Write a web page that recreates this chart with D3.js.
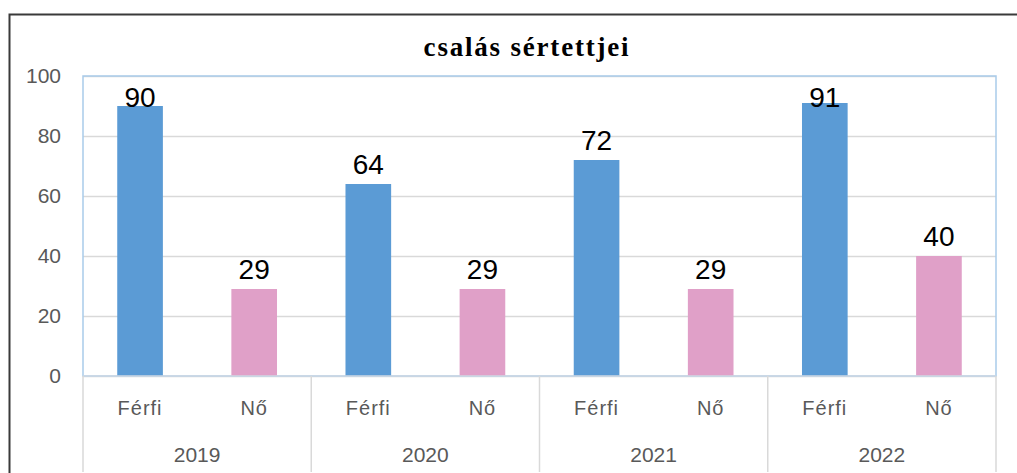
<!DOCTYPE html>
<html>
<head>
<meta charset="utf-8">
<script src="https://cdn.jsdelivr.net/npm/d3@7"></script>
<style>
  body { margin: 0; background: #fff; }
  svg { display: block; }
  .tick text { font-family: "Liberation Sans", Arial, sans-serif; }
</style>
</head>
<body>
<div id="container"></div>
<script>
const years = ["2019", "2020", "2021", "2022"];
const sexes = ["Férfi", "Nő"];
const men = [90, 64, 72, 91];
const women = [29, 29, 29, 40];
const yTicks = [0, 20, 40, 60, 80, 100];
const title = "csalás sértettjei";

const width = 1017;
const height = 473;
const plot = { left: 83, right: 996, top: 76, bot: 376 };

const svg = d3.select("#container")
              .append("svg")
              .attr("width", width)
              .attr("height", height);

// outer frame (only top and left edges visible)
svg.append("path")
   .attr("d", "M9.5," + height + "V14.5H" + width)
   .attr("fill", "none")
   .attr("stroke", "#3a3a3a")
   .attr("stroke-width", 2);

const yScale = d3.scaleLinear()
                 .domain([0, 100])
                 .range([plot.bot, plot.top]);
const xYear = d3.scaleBand()
                .domain(years)
                .range([plot.left, plot.right]);
const xSex = d3.scaleBand()
               .domain(sexes)
               .range([0, xYear.bandwidth()])
               .paddingInner(0.6)
               .paddingOuter(0.3);

// gridlines
const grid = svg.append("g")
   .attr("transform", "translate(" + plot.left + ",0)")
   .call(d3.axisLeft(yScale).tickValues(yTicks).tickSize(-(plot.right - plot.left)).tickFormat(""));
grid.select(".domain").remove();
grid.selectAll("line").attr("stroke", "#d9d9d9").attr("stroke-width", 1.5);

// plot border
svg.append("rect")
   .attr("x", plot.left)
   .attr("y", plot.top)
   .attr("width", plot.right - plot.left)
   .attr("height", plot.bot - plot.top)
   .attr("fill", "none")
   .attr("stroke", "#a9cbea")
   .attr("stroke-width", 1.5);

// y axis labels
const yAxis = svg.append("g")
   .attr("transform", "translate(" + (plot.left - 22) + ",0)")
   .call(d3.axisLeft(yScale).tickValues(yTicks).tickSize(0).tickPadding(0));
yAxis.select(".domain").remove();
yAxis.selectAll("text")
     .attr("font-size", 21)
     .attr("fill", "#595959");

// bars
const rows = [];
years.forEach((y, i) => {
  rows.push({ year: y, sex: sexes[0], value: men[i] });
  rows.push({ year: y, sex: sexes[1], value: women[i] });
});
const colors = { "Férfi": "#5b9bd5", "Nő": "#e0a0c8" };

svg.selectAll("rect.bar")
   .data(rows)
   .enter()
   .append("rect")
   .attr("class", "bar")
   .attr("x", d => xYear(d.year) + xSex(d.sex))
   .attr("y", d => yScale(d.value))
   .attr("width", xSex.bandwidth())
   .attr("height", d => yScale(0) - yScale(d.value))
   .attr("fill", d => colors[d.sex]);

// value labels
svg.selectAll("text.val")
   .data(rows)
   .enter()
   .append("text")
   .attr("class", "val")
   .attr("x", d => xYear(d.year) + xSex(d.sex) + xSex.bandwidth() / 2)
   .attr("y", d => Math.max(yScale(d.value) - 10, plot.top + 31))
   .attr("text-anchor", "middle")
   .attr("font-family", "Liberation Sans, Arial, sans-serif")
   .attr("font-size", 28)
   .attr("fill", "#000")
   .text(d => d.value);

// category axis
svg.append("line")
   .attr("x1", plot.left).attr("x2", plot.right)
   .attr("y1", plot.bot).attr("y2", plot.bot)
   .attr("stroke", "#cfd8e3")
   .attr("stroke-width", 1.5);

svg.selectAll("line.sep")
   .data(years.concat(["end"]))
   .enter()
   .append("line")
   .attr("class", "sep")
   .attr("x1", (d, i) => plot.left + i * xYear.bandwidth())
   .attr("x2", (d, i) => plot.left + i * xYear.bandwidth())
   .attr("y1", plot.bot)
   .attr("y2", 472)
   .attr("stroke", "#d9d9d9")
   .attr("stroke-width", 1.5);

years.forEach(y => {
  const g = svg.append("g")
     .attr("transform", "translate(" + xYear(y) + "," + (plot.bot + 25) + ")")
     .call(d3.axisBottom(xSex).tickSize(0).tickPadding(0));
  g.select(".domain").remove();
  g.selectAll("text")
   .attr("font-size", 20)
   .attr("letter-spacing", "1px")
   .attr("fill", "#595959");
});

const yearAxis = svg.append("g")
   .attr("transform", "translate(0," + (plot.bot + 71) + ")")
   .call(d3.axisBottom(xYear).tickSize(0).tickPadding(0));
yearAxis.select(".domain").remove();
yearAxis.selectAll("text")
        .attr("font-size", 21)
        .attr("fill", "#595959");

// title
svg.append("text")
   .attr("x", 527)
   .attr("y", 56)
   .attr("text-anchor", "middle")
   .attr("font-family", "Liberation Serif, Times New Roman, serif")
   .attr("font-weight", "bold")
   .attr("font-size", 27)
   .attr("letter-spacing", "1.8px")
   .attr("fill", "#000")
   .text(title);
</script>
</body>
</html>
